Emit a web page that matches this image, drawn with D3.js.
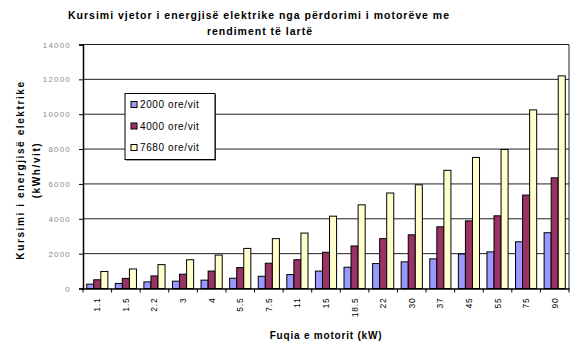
<!DOCTYPE html>
<html><head><meta charset="utf-8">
<script src="https://cdn.jsdelivr.net/npm/d3@7/dist/d3.min.js"></script>
<style>body{margin:0;background:#fff}svg{display:block}text{font-family:Arial,"Liberation Sans",sans-serif}</style>
</head><body><svg id="c" width="575" height="343"></svg>
<script>
const categories = ["1.1","1.5","2.2","3","4","5.5","7.5","11","15","18.5","22","30","37","45","55","75","90"];
const seriesNames = ["2000 ore/vit","4000 ore/vit","7680 ore/vit"];
const s2000 = [250,290,380,420,480,590,700,800,1000,1220,1430,1530,1700,1980,2100,2680,3200];
const s4000 = [500,580,720,820,1000,1200,1450,1650,2080,2440,2860,3080,3540,3880,4170,5360,6350];
const s7680 = [980,1120,1370,1650,1920,2300,2860,3180,4150,4800,5480,5950,6780,7520,7980,10250,12200];
const yTicks = [0,2000,4000,6000,8000,10000,12000,14000];
const colors = ["#9999FF","#993366","#FFFFCC"];
const titleLines = ["Kursimi vjetor i energjisë elektrike nga përdorimi i motorëve me","rendiment të lartë"];
const yTitle = ["Kursimi i energjisë elektrike","(kWh/vit)"];
const xTitle = "Fuqia e motorit (kW)";

const series = [s2000, s4000, s7680];
const svg = d3.select("#c");
const L = 83, R = 569, T = 44.5, B = 288.5;

const x0 = d3.scaleBand().domain(categories).range([L, R]).paddingInner(0.26).paddingOuter(0.13);
const x1 = d3.scaleBand().domain(d3.range(3)).range([0, x0.bandwidth()]);
const y = d3.scaleLinear().domain([0, 14000]).range([B, T]);

// gridlines
svg.append("g").selectAll("line").data(yTicks.filter(d => d > 0)).join("line")
  .attr("x1", L).attr("x2", R).attr("y1", d => y(d)).attr("y2", d => y(d))
  .attr("stroke", "#222").attr("stroke-width", 1);
// right border
svg.append("line").attr("x1", R).attr("x2", R).attr("y1", T).attr("y2", B).attr("stroke", "#222");

// bars
const g = svg.append("g");
categories.forEach((c, i) => {
  series.forEach((s, k) => {
    g.append("rect")
      .attr("x", x0(c) + x1(k))
      .attr("y", y(s[i]))
      .attr("width", x1.bandwidth())
      .attr("height", B - y(s[i]))
      .attr("fill", colors[k]).attr("stroke", "#000").attr("stroke-width", 1);
  });
});

// y axis
const yAxis = d3.axisLeft(y).tickValues(yTicks).tickSize(4).tickFormat(d3.format("d"));
const ya = svg.append("g").attr("transform", `translate(${L},0)`).call(yAxis);
ya.select(".domain").attr("stroke", "#000").attr("stroke-width", 1.5);
ya.selectAll(".tick line").attr("stroke", "#000");
ya.selectAll("text").attr("fill", "#8a8a8a").style("font-size", "8px").style("letter-spacing", "1.2px").attr("x", -12);

// x axis
const xa = svg.append("g").attr("transform", `translate(0,${B})`)
  .call(d3.axisBottom(x0).tickSize(0).tickPadding(0));
xa.select(".domain").attr("stroke", "#000").attr("stroke-width", 1.5);
// ticks at category boundaries
const bounds = categories.map(c => x0(c) - x0.step() * x0.paddingInner() / 2).concat([R]);
xa.selectAll(".bt").data(bounds).join("line").attr("class", "bt")
  .attr("x1", d => d).attr("x2", d => d).attr("y1", 0).attr("y2", 4).attr("stroke", "#000");
xa.selectAll(".tick text")
  .attr("transform", "rotate(-90)")
  .attr("text-anchor", "end").attr("dy", "0.35em")
  .attr("x", -9).attr("y", 0)
  .attr("fill", "#000").style("font-size", "8.5px").style("letter-spacing", "0.8px");

// legend
const lg = svg.append("g").attr("transform", "translate(125,93.5)");
lg.append("rect").attr("x", 1).attr("y", 1).attr("width", 90).attr("height", 66).attr("fill", "#444");
lg.append("rect").attr("width", 90).attr("height", 66).attr("fill", "#fff").attr("stroke", "#000");
seriesNames.forEach((n, k) => {
  const yy = 11 + k * 21.5;
  lg.append("rect").attr("x", 6).attr("y", yy - 3).attr("width", 6).attr("height", 6)
    .attr("fill", colors[k]).attr("stroke", "#000");
  lg.append("text").attr("x", 15).attr("y", yy).attr("dy", "0.35em")
    .style("font-size", "10px").style("letter-spacing", "0.6px").text(n);
});

// titles
svg.append("text").attr("x", 259).attr("y", 15).attr("text-anchor", "middle").attr("dy", "0.35em")
  .style("font-size", "10.5px").style("font-weight", "bold").style("letter-spacing", "1px").text(titleLines[0]);
svg.append("text").attr("x", 260).attr("y", 31).attr("text-anchor", "middle").attr("dy", "0.35em")
  .style("font-size", "10.5px").style("font-weight", "bold").style("letter-spacing", "1px").text(titleLines[1]);

yTitle.forEach((t, i) => {
  svg.append("text").attr("transform", `translate(${20 + i * 16},170) rotate(-90)`)
    .attr("text-anchor", "middle").attr("dy", "0.35em")
    .style("font-size", "10px").style("font-weight", "bold").style("letter-spacing", "1.6px").text(t);
});
svg.append("text").attr("x", 326).attr("y", 335).attr("text-anchor", "middle").attr("dy", "0.35em")
  .style("font-size", "10px").style("font-weight", "bold").style("letter-spacing", "0.8px").text(xTitle);
</script></body></html>
